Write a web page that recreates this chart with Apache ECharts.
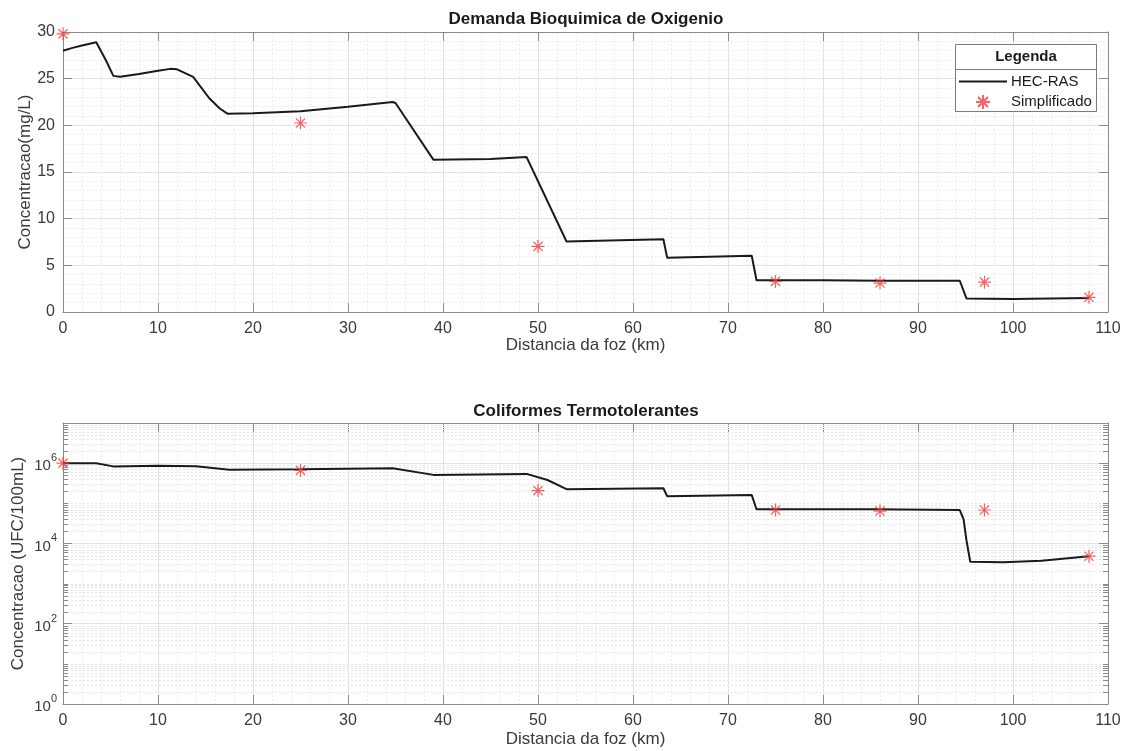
<!DOCTYPE html>
<html>
<head>
<meta charset="utf-8">
<script src="https://cdn.jsdelivr.net/npm/echarts@6/dist/echarts.min.js"></script>
<style>
html,body{margin:0;padding:0;background:#fff;}
#c{width:1131px;height:751px;}
</style>
</head>
<body>
<div id="c"></div>
<script>
// ---- data ----
var titles = ['Demanda Bioquimica de Oxigenio', 'Coliformes Termotolerantes'];
var xName = 'Distancia da foz (km)';
var yNames = ['Concentracao(mg/L)', 'Concentracao (UFC/100mL)'];
var legendNames = ['HEC-RAS', 'Simplificado'];

// DBO - HEC-RAS line (km, mg/L)
var dboKm  = [0, 1, 2, 3.5, 4.5, 5.3, 6, 8, 10, 11.3, 12, 13.7, 15.4, 16.5, 17.3, 20, 25, 30, 34.7, 35.0, 39.0, 45, 48.8, 53.0, 63.2, 63.6, 72.5, 73.0, 80, 86, 94.4, 95.1, 100, 108];
var dboVal = [28.0, 28.3, 28.55, 28.9, 27.0, 25.3, 25.2, 25.5, 25.85, 26.05, 26.0, 25.2, 22.9, 21.8, 21.25, 21.3, 21.5, 22.0, 22.5, 22.4, 16.3, 16.4, 16.6, 7.55, 7.8, 5.8, 6.03, 3.4, 3.4, 3.35, 3.35, 1.45, 1.4, 1.5];
// DBO - Simplificado
var simKm  = [0, 25, 50, 75, 86, 97, 108];
var dboSim = [29.8, 20.25, 7.03, 3.28, 3.1, 3.2, 1.57];

// Coliformes - HEC-RAS line (km, UFC/100mL)
var colKm  = [0, 3.5, 5.3, 10, 14, 17.5, 25, 34.7, 39.0, 48.8, 51, 53, 63.2, 63.6, 72.5, 73.0, 85, 94.4, 94.8, 95.1, 95.5, 99, 103, 108];
var colVal = [1.0e6, 1.0e6, 8.3e5, 8.6e5, 8.4e5, 6.8e5, 7.0e5, 7.5e5, 5.1e5, 5.4e5, 3.8e5, 2.25e5, 2.37e5, 1.5e5, 1.6e5, 7.1e4, 7.1e4, 6.8e4, 4.0e4, 1.2e4, 3.5e3, 3.4e3, 3.7e3, 4.8e3];
var colSim = [1.0e6, 6.6e5, 2.07e5, 6.8e4, 6.4e4, 6.8e4, 4.8e3];

// tick settings
var xTicks = {min: 0, max: 110, interval: 10};
var dboTicks = {min: 0, max: 30, interval: 5};
var logTicks = {min: 1, max: 1e7};
var logMinor = [];
for (var k = 0; k < 7; k++) {
  for (var m = 2; m <= 9; m++) logMinor.push(m * Math.pow(10, k));
  if (k % 2 === 1) logMinor.push(Math.pow(10, k));
}

// ---- styles ----
var FONT = 'Liberation Sans, Arial, Helvetica, sans-serif';
var AXC = '#8a8a8a';
var LBC = '#3a3a3a';
var MAJ = '#e2e2e2';
var MIN = '#ececec';
var RED = '#f23c3c';
var STAR = 'path://M5 0L5 10M0 5L10 5M1.46 1.46L8.54 8.54M1.46 8.54L8.54 1.46';

function zip(a, b) { return a.map(function (v, i) { return [v, b[i]]; }); }

function xAxisBottom(g, gap) {
  return {
    gridIndex: g, type: 'value', position: 'bottom',
    min: xTicks.min, max: xTicks.max, interval: xTicks.interval,
    name: xName, nameLocation: 'middle', nameGap: gap, nameMoveOverlap: false,
    nameTextStyle: {fontFamily: FONT, fontSize: 17, color: LBC},
    axisLine: {show: true, onZero: false, lineStyle: {color: AXC, width: 1}},
    axisTick: {show: true, inside: true, length: 9, lineStyle: {color: AXC}},
    axisLabel: {fontFamily: FONT, fontSize: 16, color: LBC, margin: 9},
    splitLine: {show: true, lineStyle: {color: MAJ, width: 1}},
    minorTick: {show: false, splitNumber: 5},
    minorSplitLine: {show: true, lineStyle: {color: MIN, width: 1, type: [2, 2]}}
  };
}
function xAxisTop(g) {
  return {
    gridIndex: g, type: 'value', position: 'top',
    min: xTicks.min, max: xTicks.max, interval: xTicks.interval,
    axisLine: {show: true, onZero: false, lineStyle: {color: AXC, width: 1}},
    axisTick: {show: true, inside: true, length: 9, lineStyle: {color: AXC}},
    axisLabel: {show: false}, splitLine: {show: false}
  };
}

var option = {
  animation: false,
  backgroundColor: '#ffffff',
  title: [
    {text: titles[0], left: 586, top: 11, textAlign: 'center', padding: 0,
     textStyle: {fontFamily: FONT, fontSize: 17, fontWeight: 'bold', color: '#1a1a1a'}},
    {text: titles[1], left: 586, top: 403, textAlign: 'center', padding: 0,
     textStyle: {fontFamily: FONT, fontSize: 17, fontWeight: 'bold', color: '#1a1a1a'}}
  ],
  grid: [
    {left: 63, top: 32, width: 1045, height: 280, containLabel: false, outerBoundsMode: 'none'},
    {left: 63, top: 423, width: 1045, height: 281, containLabel: false, outerBoundsMode: 'none'}
  ],
  legend: {
    data: [{name: legendNames[0], itemStyle: {opacity: 0}}, {name: legendNames[1]}],
    orient: 'vertical', left: 958, top: 74, z: 100,
    itemWidth: 48, itemHeight: 14, itemGap: 5, padding: 0,
    textStyle: {fontFamily: FONT, fontSize: 15, color: '#1a1a1a', padding: [0, 0, 0, -1]},
    selectedMode: false
  },
  graphic: [
    {type: 'rect', left: 955, top: 44, shape: {width: 141, height: 67},
     style: {fill: '#ffffff', stroke: '#7a7a7a', lineWidth: 1}, z: 50},
    {type: 'line', shape: {x1: 955, y1: 69.5, x2: 1096, y2: 69.5},
     style: {stroke: '#7a7a7a', lineWidth: 1}, z: 51},
    {type: 'text', x: 1026, y: 57, z: 51,
     style: {text: 'Legenda', fontFamily: FONT, fontSize: 15, fontWeight: 'bold', fill: '#1a1a1a', align: 'center', verticalAlign: 'middle'}}
  ],
  xAxis: [xAxisBottom(0, 25), xAxisTop(0), xAxisBottom(1, 27), xAxisTop(1)],
  yAxis: [
    {gridIndex: 0, type: 'value', position: 'left',
     min: dboTicks.min, max: dboTicks.max, interval: dboTicks.interval,
     name: yNames[0], nameLocation: 'middle', nameGap: 29, nameMoveOverlap: false,
     nameTextStyle: {fontFamily: FONT, fontSize: 17, color: LBC},
     axisLine: {show: true, onZero: false, lineStyle: {color: AXC}},
     axisTick: {show: true, inside: true, length: 9, lineStyle: {color: AXC}},
     axisLabel: {fontFamily: FONT, fontSize: 16, color: LBC, margin: 8},
     splitLine: {show: true, lineStyle: {color: MAJ}},
     minorTick: {show: false, splitNumber: 5},
     minorSplitLine: {show: true, lineStyle: {color: MIN, type: [2, 2]}}},
    {gridIndex: 0, type: 'value', position: 'right',
     min: dboTicks.min, max: dboTicks.max, interval: dboTicks.interval,
     axisLine: {show: true, onZero: false, lineStyle: {color: AXC}},
     axisTick: {show: true, inside: true, length: 9, lineStyle: {color: AXC}},
     axisLabel: {show: false}, splitLine: {show: false}},
    {gridIndex: 1, type: 'log', logBase: 10, position: 'left',
     min: logTicks.min, max: logTicks.max, interval: 2,
     name: yNames[1], nameLocation: 'middle', nameGap: 36, nameMoveOverlap: false,
     nameTextStyle: {fontFamily: FONT, fontSize: 17, color: LBC},
     axisLine: {show: true, onZero: false, lineStyle: {color: AXC}},
     axisTick: {show: true, inside: true, length: 9, lineStyle: {color: AXC}},
     axisLabel: {
       fontFamily: FONT, fontSize: 15, color: LBC, margin: 6,
       formatter: function (v) {
         var e = Math.round(Math.log(v) / Math.LN10);
         if (e % 2 !== 0) return '';
         return '{b|10}{s|' + e + '}';
       },
       rich: {
         b: {fontFamily: FONT, fontSize: 15, color: LBC, padding: [6, 0, 0, 0]},
         s: {fontFamily: FONT, fontSize: 11, color: LBC, verticalAlign: 'top'}
       }
     },
     splitLine: {show: true, lineStyle: {color: MAJ}}},
    {gridIndex: 1, type: 'log', logBase: 10, position: 'right',
     min: logTicks.min, max: logTicks.max, interval: 2,
     axisLine: {show: true, onZero: false, lineStyle: {color: AXC}},
     axisTick: {show: true, inside: true, length: 9, lineStyle: {color: AXC}},
     axisLabel: {show: false}, splitLine: {show: false}}
  ],
  series: [
    {name: 'logMinor', type: 'custom', xAxisIndex: 2, yAxisIndex: 2, silent: true, z: 1,
     clip: false,
     data: logMinor.map(function (v) { return [0, v]; }),
     encode: {x: 0, y: 1},
     renderItem: function (params, api) {
       var cs = params.coordSys;
       var y = Math.round(api.coord([0, api.value(1)])[1]) + 0.5;
       var x0 = cs.x, x1 = cs.x + cs.width;
       return {type: 'group', children: [
         {type: 'line', shape: {x1: x0, y1: y, x2: x1, y2: y},
          style: {stroke: '#e6e6e6', lineWidth: 1, lineDash: [2, 2]}},
         {type: 'line', shape: {x1: x0, y1: y, x2: x0 + 5, y2: y},
          style: {stroke: AXC, lineWidth: 1}},
         {type: 'line', shape: {x1: x1 - 5, y1: y, x2: x1, y2: y},
          style: {stroke: AXC, lineWidth: 1}}
       ]};
     }},
    {name: legendNames[0], type: 'line', xAxisIndex: 0, yAxisIndex: 0,
     data: zip(dboKm, dboVal), symbol: 'none', showSymbol: false, z: 5,
     lineStyle: {color: '#1a1a1a', width: 2}, itemStyle: {color: '#1a1a1a'}},
    {name: legendNames[1], type: 'scatter', xAxisIndex: 0, yAxisIndex: 0,
     data: zip(simKm, dboSim), symbol: STAR, symbolSize: 13, z: 6,
     itemStyle: {color: 'rgba(0,0,0,0)', borderColor: RED, borderWidth: 1.2}},
    {name: legendNames[0], type: 'line', xAxisIndex: 2, yAxisIndex: 2,
     data: zip(colKm, colVal), symbol: 'none', showSymbol: false, z: 5,
     lineStyle: {color: '#1a1a1a', width: 2}, itemStyle: {color: '#1a1a1a'}},
    {name: legendNames[1], type: 'scatter', xAxisIndex: 2, yAxisIndex: 2,
     data: zip(simKm, colSim), symbol: STAR, symbolSize: 13, z: 6,
     itemStyle: {color: 'rgba(0,0,0,0)', borderColor: RED, borderWidth: 1.2}}
  ]
};

var chart = echarts.init(document.getElementById('c'), null, {renderer: 'canvas'});
chart.setOption(option);
</script>
</body>
</html>
